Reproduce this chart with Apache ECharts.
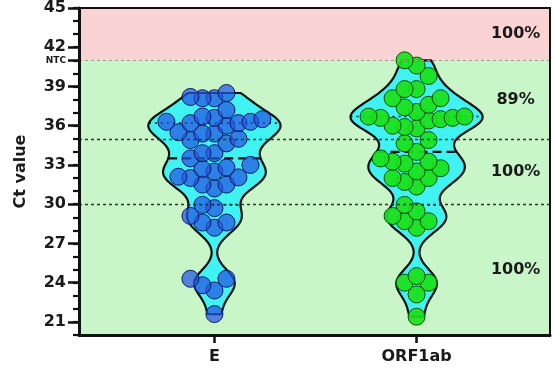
<!DOCTYPE html>
<html>
<head>
<meta charset="utf-8">
<script src="https://cdn.jsdelivr.net/npm/echarts@6/dist/echarts.min.js"></script>
<style>
  html, body { margin: 0; padding: 0; background: #fff; }
  #chart { width: 554px; height: 368px; }
</style>
</head>
<body>
<div id="chart"></div>
<script>
// Ct values
const groups = ['E', 'ORF1ab']
const eValues = [
  38.1, 38.1, 38.2, 38.5, 37.2, 36.6, 36.2, 36.5, 36.3, 36.0, 36.7, 36.2, 36.3,
  35.5, 34.9, 34.65, 35.0, 35.4, 35.4, 33.9, 33.5, 33.0, 32.8, 32.7, 33.9, 32.5,
  32.1, 32.0, 31.5, 31.5, 31.2, 32.05, 29.7, 29.95, 28.6, 28.2, 28.6, 29.1,
  24.3, 24.3, 23.4, 23.8, 21.6
]
const orfValues = [
  41.0, 40.6, 39.8, 38.8, 38.8, 38.1, 38.1, 37.6, 37.05, 36.7, 36.7, 37.4, 36.4,
  35.9, 36.0, 35.8, 36.5, 36.6, 36.6, 34.65, 34.9, 33.25, 33.1, 32.75, 33.5, 33.25,
  34.0, 32.5, 32.0, 32.0, 31.7, 31.35, 29.95, 29.45, 28.7, 28.2, 28.7, 29.1,
  24.0, 24.5, 24.0, 23.1, 21.4
]
const groupValues = [eValues, orfValues]
const yTickLabels = [21, 24, 27, 30, 33, 36, 39, 42, 45]
const ntcValue = 41
const cutoffLines = [30, 35]
const bandEdges = [20, 30, 35, 41, 45]
const bandLabels = ['100%', '100%', '89%', '100%']

const FONT = 'DejaVu Sans'
const pointFill = ['rgba(35, 85, 225, 0.72)', 'rgba(25, 225, 25, 0.92)']
const pointStroke = ['#0b1a66', '#0b4d0b']
const maxHalfWidth = 0.327
const bandwidth = 0.95

function quantile(sorted, p) {
  const pos = (sorted.length + 1) * p - 1
  const lo = Math.max(0, Math.floor(pos))
  const hi = Math.min(sorted.length - 1, lo + 1)
  return sorted[lo] + (sorted[hi] - sorted[lo]) * (pos - lo)
}

function density(vals, y) {
  let s = 0
  for (const v of vals) {
    const z = (y - v) / bandwidth
    s += Math.exp(-0.5 * z * z)
  }
  return s
}

function renderViolin(params, api) {
  const gi = api.value(0)
  const vals = groupValues[gi].slice().sort((a, b) => a - b)
  const xc = gi + 1
  const cx = api.coord([xc, 30])[0]
  const halfPx = api.size([maxHalfWidth, 0])[0]
  const lo = vals[0], hi = vals[vals.length - 1]
  const steps = 140
  const ys = []
  let maxD = 0
  for (let i = 0; i <= steps; i++) {
    const y = lo + (hi - lo) * i / steps
    const d = density(vals, y)
    ys.push([y, d])
    if (d > maxD) maxD = d
  }
  const widthAt = y => density(vals, y) / maxD * halfPx
  const left = ys.map(([y, d]) => [cx - d / maxD * halfPx, api.coord([xc, y])[1]])
  const right = ys.slice().reverse().map(([y, d]) => [cx + d / maxD * halfPx, api.coord([xc, y])[1]])
  const children = [{
    type: 'polygon',
    shape: { points: left.concat(right) },
    style: { fill: '#40f2f2', stroke: '#111', lineWidth: 2.2, lineJoin: 'round' }
  }]

  const statLine = (v, dash, lw) => {
    const w = widthAt(v)
    const py = api.coord([xc, v])[1]
    children.push({
      type: 'line',
      shape: { x1: cx - w, y1: py, x2: cx + w, y2: py },
      style: { stroke: '#111', lineWidth: lw, lineDash: dash }
    })
  }
  statLine(quantile(vals, 0.25), [2, 4], 1.6)
  statLine(quantile(vals, 0.75), [2, 4], 1.6)
  statLine(quantile(vals, 0.5), [9, 5], 2.4)

  // simple beeswarm in pixel space, rows are looser vertically
  const step = 12, rx = 11.5, ry = 15, r = 8.5
  const placed = []
  for (const v of vals) {
    const py = api.coord([xc, v])[1]
    let ox = 0
    for (let t = 0; t < 40; t++) {
      const off = (t % 2 === 0 ? 1 : -1) * Math.ceil(t / 2) * step
      const hit = placed.some(p => {
        const dx = (p[0] - (cx + off)) / rx, dy = (p[1] - py) / ry
        return dx * dx + dy * dy < 1
      })
      if (!hit) { ox = off; break }
    }
    placed.push([cx + ox, py])
  }
  for (const p of placed) {
    children.push({
      type: 'circle',
      shape: { cx: p[0], cy: p[1], r: r },
      style: { fill: pointFill[gi], stroke: pointStroke[gi], lineWidth: 1 }
    })
  }
  return { type: 'group', children: children }
}

const bandMids = bandLabels.map((t, i) => [2.49, (bandEdges[i] + bandEdges[i + 1]) / 2, t])

const chart = echarts.init(document.getElementById('chart'))
chart.setOption({
  animation: false,
  backgroundColor: '#fff',
  grid: { left: 79, right: 4, top: 7, bottom: 33, backgroundColor: '#c9f6c9', show: true, borderWidth: 0 },
  xAxis: [{
    type: 'value', min: 0.33, max: 2.66, z: 10,
    axisLine: { show: true, onZero: false, lineStyle: { color: '#111', width: 3 } },
    axisTick: { show: true, customValues: [1, 2], length: 8, lineStyle: { color: '#111', width: 2.5 } },
    axisLabel: {
      customValues: [1, 2], margin: 14,
      formatter: v => groups[Math.round(v) - 1],
      fontFamily: FONT, fontWeight: 'bold', fontSize: 16, color: '#1a1a1a'
    },
    splitLine: { show: false }
  }, {
    type: 'value', position: 'top', min: 0.33, max: 2.66, z: 10,
    axisLine: { show: true, onZero: false, lineStyle: { color: '#111', width: 2 } },
    axisTick: { show: false }, axisLabel: { show: false }, splitLine: { show: false }
  }],
  yAxis: [{
    type: 'value', min: 20, max: 45, z: 10,
    name: 'Ct value', nameLocation: 'middle', nameGap: 50,
    nameTextStyle: { fontFamily: FONT, fontWeight: 'bold', fontSize: 16, color: '#1a1a1a' },
    axisLine: { show: true, onZero: false, lineStyle: { color: '#111', width: 3 } },
    axisTick: { show: true, customValues: yTickLabels.concat([ntcValue]), length: 11, lineStyle: { color: '#111', width: 2.5 } },
    axisLabel: {
      customValues: yTickLabels.concat([ntcValue]), margin: 13,
      formatter: v => v === ntcValue ? '{n|NTC}' : String(v),
      fontFamily: FONT, fontWeight: 'bold', fontSize: 16, color: '#1a1a1a',
      rich: { n: { fontFamily: FONT, fontWeight: 'bold', fontSize: 9, color: '#1a1a1a' } }
    },
    splitLine: { show: false }
  }, {
    type: 'value', min: 20, max: 45, interval: 1, position: 'left', z: 9,
    axisLine: { show: false },
    axisTick: { show: true, length: 6, lineStyle: { color: '#111', width: 2.2 } },
    axisLabel: { show: false }, splitLine: { show: false }
  }, {
    type: 'value', position: 'right', min: 20, max: 45, z: 10,
    axisLine: { show: true, onZero: false, lineStyle: { color: '#111', width: 2 } },
    axisTick: { show: false }, axisLabel: { show: false }, splitLine: { show: false }
  }],
  series: [{
    type: 'scatter', data: [], z: 1, silent: true,
    markArea: {
      silent: true,
      itemStyle: { color: '#fad4d4' },
      data: [[{ yAxis: ntcValue }, { yAxis: 45 }]]
    },
    markLine: {
      silent: true, symbol: 'none', label: { show: false },
      data: [
        { yAxis: ntcValue, lineStyle: { color: '#9a9a9a', width: 1.2, type: [3, 3] } }
      ].concat(cutoffLines.map(v => ({ yAxis: v, lineStyle: { color: '#333', width: 1.3, type: [3, 3] } })))
    }
  }, {
    type: 'custom', z: 3,
    renderItem: renderViolin,
    data: [[0], [1]],
    clip: false
  }, {
    type: 'scatter', z: 4, symbolSize: 0, silent: true,
    itemStyle: { opacity: 1 },
    data: bandMids,
    label: {
      show: true, position: 'inside',
      formatter: p => p.data[2],
      fontFamily: FONT, fontWeight: 'bold', fontSize: 16, color: '#1a1a1a'
    }
  }]
})
</script>
</body>
</html>
